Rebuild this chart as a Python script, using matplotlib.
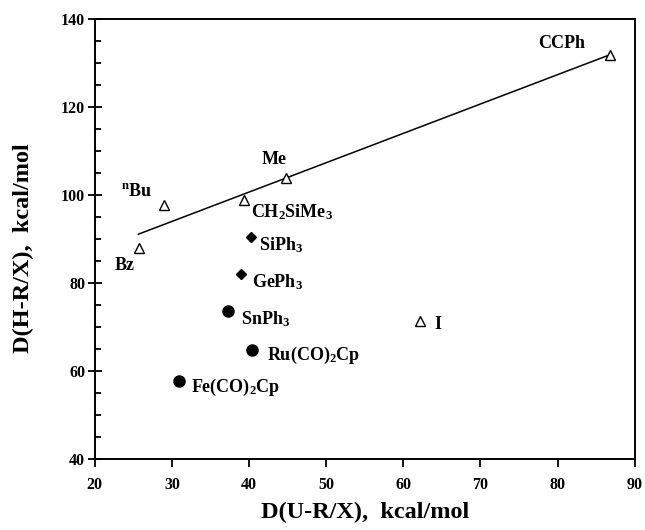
import matplotlib
matplotlib.use("Agg")
import matplotlib.pyplot as plt
from matplotlib.ticker import MultipleLocator

plt.rcParams['font.family'] = ['Liberation Serif', 'DejaVu Serif']
plt.rcParams['font.weight'] = 'bold'
plt.rcParams['mathtext.fontset'] = 'custom'
plt.rcParams['mathtext.rm'] = 'Liberation Serif:bold'
plt.rcParams['mathtext.it'] = 'Liberation Serif:bold'
plt.rcParams['mathtext.default'] = 'rm'

# open triangles (organic R / X groups)
tri_names = ['CCPh', 'Me', 'CH$_2$SiMe$_3$', '$^n$Bu', 'Bz', 'I']
tri_x = [86.8, 44.8, 39.3, 29.0, 25.7, 62.2]
tri_y = [131.9, 103.8, 98.8, 97.7, 87.9, 71.4]

# filled diamonds
dia_names = ['SiPh$_3$', 'GePh$_3$']
dia_x = [40.3, 38.9]
dia_y = [90.4, 82.0]

# filled circles
circ_names = ['SnPh$_3$', 'Ru(CO)$_2$Cp', 'Fe(CO)$_2$Cp']
circ_x = [37.3, 40.4, 30.9]
circ_y = [73.7, 64.7, 57.8]

# fit line end points
line_x = [25.65, 86.8]
line_y = [91.1, 131.9]

# label anchors (left edge, vertical centre)
lab_pos = {
    'CCPh': (77.5, 134.5),
    'Me': (41.6, 108.0),
    'CH$_2$SiMe$_3$': (40.2, 96.2),
    '$^n$Bu': (23.4, 100.8),
    'Bz': (22.6, 83.9),
    'I': (64.0, 70.6),
    'SiPh$_3$': (41.3, 88.6),
    'GePh$_3$': (40.4, 80.2),
    'SnPh$_3$': (39.0, 71.8),
    'Ru(CO)$_2$Cp': (42.3, 63.6),
    'Fe(CO)$_2$Cp': (32.5, 56.3),
}

fig = plt.figure(figsize=(6.45, 5.3), dpi=100)
ax = fig.add_axes([0.147, 0.134, 0.837, 0.830])

ax.plot(line_x, line_y, color='black', lw=1.1)
ax.plot(tri_x, tri_y, linestyle='none', marker='^', ms=7, mfc='white',
        mec='black', mew=1.0)
ax.plot(dia_x, dia_y, linestyle='none', marker='D', ms=5.5, color='black')
ax.plot(circ_x, circ_y, linestyle='none', marker='o', ms=8, color='black')

for name in tri_names + dia_names + circ_names:
    x, y = lab_pos[name]
    ax.text(x, y, name, fontsize=13, fontweight='bold', ha='left',
            va='center')

ax.set_xlim(20, 90)
ax.set_ylim(40, 140)
ax.xaxis.set_major_locator(MultipleLocator(10))
ax.yaxis.set_major_locator(MultipleLocator(20))
ax.yaxis.set_minor_locator(MultipleLocator(5))

ax.tick_params(axis='x', which='major', direction='out', length=6, width=1.3,
               labelsize=11.5, pad=7)
ax.tick_params(axis='y', which='major', direction='inout', length=10, width=1.3,
               labelsize=11.5, pad=2)
ax.tick_params(axis='y', which='minor', direction='in', length=4, width=1.3)
for lab in ax.get_xticklabels() + ax.get_yticklabels():
    lab.set_fontweight('bold')

for s in ax.spines.values():
    s.set_linewidth(1.4)

ax.set_xlabel('D(U-R/X),  kcal/mol', fontsize=17.5, fontweight='bold')
ax.set_ylabel('D(H-R/X),  kcal/mol', fontsize=17.5, fontweight='bold')
ax.xaxis.set_label_coords(0.5, -0.098)
ax.yaxis.set_label_coords(-0.113, 0.48)

fig.savefig('out.png', dpi=100)
